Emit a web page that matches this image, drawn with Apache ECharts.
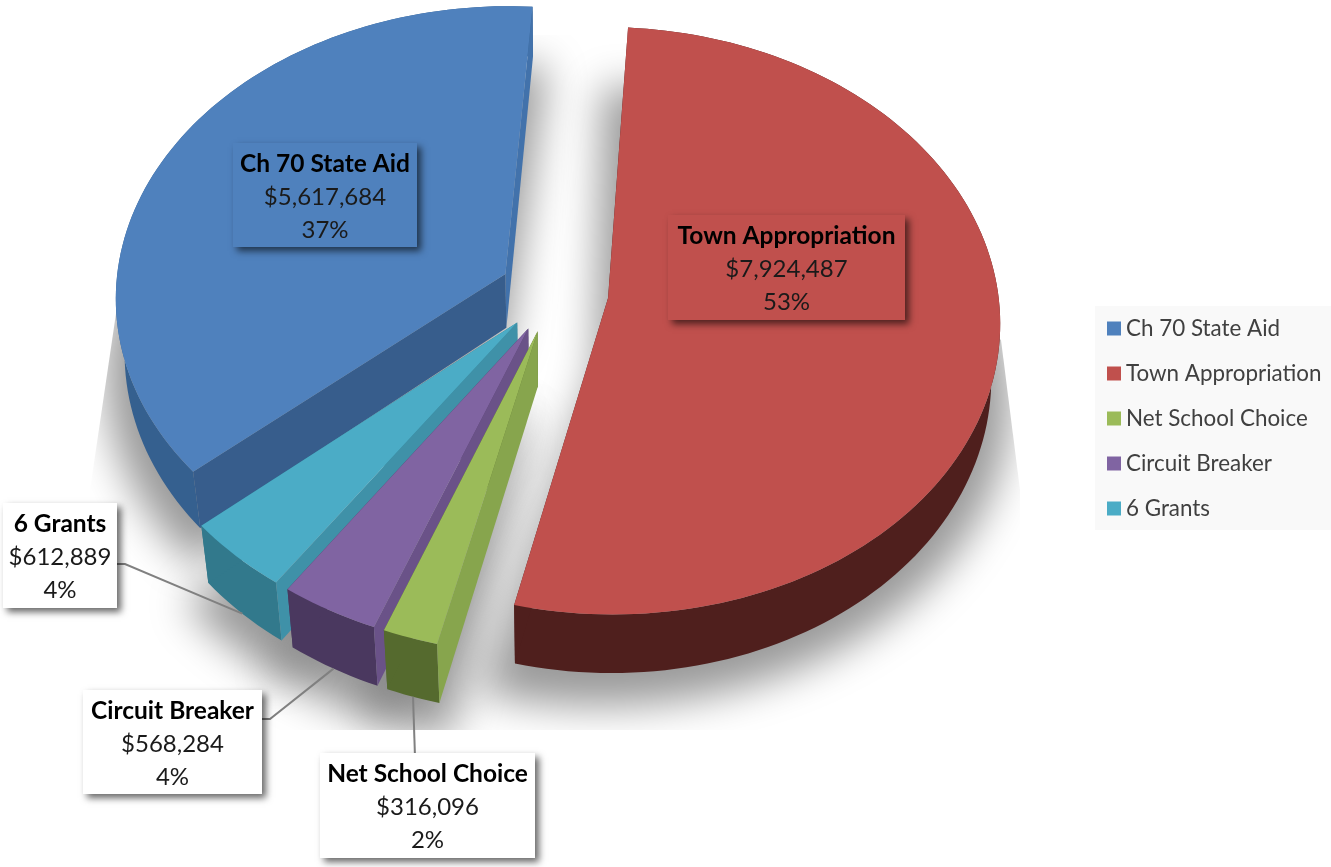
<!DOCTYPE html>
<html>
<head>
<meta charset="utf-8">
<style>html,body{margin:0;padding:0;background:#fff}#chart{width:1331px;height:867px}</style>
<script src="https://cdn.jsdelivr.net/npm/echarts@6/dist/echarts.min.js"></script>
</head>
<body>
<div id="chart"></div>
<script>
// School revenue sources, in clockwise order around the pie
const categories = ['Ch 70 State Aid', 'Town Appropriation', 'Net School Choice', 'Circuit Breaker', '6 Grants'];
const amounts = [5617684, 7924487, 316096, 568284, 612889];
const topColors = ['#4f81bd', '#c0504d', '#9bbb59', '#8064a2', '#4bacc6'];
const outerWallColors = ['#35608f', '#4f1f1d', '#556a2e', '#4a385f', '#32798c'];
const cutWallColors = ['#375d8c', '#4f1f1d', '#87a54d', '#6a5288', '#3f91a8'];
const endWallColors = ['#4272ab', '#4f1f1d', '#556a2e', '#4a385f', '#32798c'];

// Projection of the tilted disc onto the page
const view = {
  cx: 554, cy: 292, sx: 390, sy: 291, persp: 0.077,
  explode: 0.14, depth: 54, shrink: 0.02, firstAngle: 229.3
};

// Data label boxes
const labelBoxes = [
  { x: 233, y: 143, w: 184, h: 104, fill: topColors[0] },
  { x: 668, y: 215, w: 237, h: 105, fill: topColors[1] },
  { x: 320, y: 753, w: 215, h: 105, fill: '#ffffff', leader: [[415, 757]] },
  { x: 83, y: 690, w: 179, h: 104, fill: '#ffffff', leader: [[270, 719], [258, 719]] },
  { x: 3, y: 503, w: 114, h: 105, fill: '#ffffff', leader: [[125, 564], [113, 564]] }
];

// Painting order: far slices first, the red slice last
const paintOrder = [0, 4, 3, 2, 1];

const total = amounts.reduce((a, b) => a + b, 0);
const rad = Math.PI / 180;
const slices = [];
let running = view.firstAngle;
amounts.forEach((value) => {
  const sweep = value / total * 360;
  slices.push({ start: running, end: running + sweep, mid: running + sweep / 2 });
  running += sweep;
});

function project(u, v, z) {
  const f = 1 / (1 - view.persp * v);
  const s = 1 - view.shrink * z;
  return [
    view.cx + view.sx * u * f * s,
    view.cy + (view.sy * v + view.depth * z) * f
  ];
}
function discPoint(slice, angle, r, z) {
  const e = view.explode;
  const u = e * Math.sin(slice.mid * rad) + r * Math.sin(angle * rad);
  const v = -e * Math.cos(slice.mid * rad) - r * Math.cos(angle * rad);
  return project(u, v, z);
}
function rimPoints(slice, z, pad) {
  const pts = [];
  const from = slice.start - (pad || 0), to = slice.end + (pad || 0);
  const steps = Math.max(2, Math.ceil((to - from) / 1.5));
  for (let i = 0; i <= steps; i++) {
    pts.push(discPoint(slice, from + (to - from) * i / steps, 1, z));
  }
  return pts;
}
function quad(a, b, c, d, fill) {
  return { type: 'polygon', silent: true, shape: { points: [a, b, c, d] }, style: { fill } };
}

function renderSlice(i) {
  const slice = slices[i];
  const apexTop = discPoint(slice, slice.start, 0, 0);
  const apexBase = discPoint(slice, slice.start, 0, 1);
  const rimTop = rimPoints(slice, 0);
  const rimBase = rimPoints(slice, 1);
  const first = rimTop[0], last = rimTop[rimTop.length - 1];
  const firstB = rimBase[0], lastB = rimBase[rimBase.length - 1];
  const children = [
    {
      type: 'polygon', silent: true,
      shape: { points: rimTop.concat(rimBase.slice().reverse()) },
      style: { fill: outerWallColors[i] }
    },
    quad(apexTop, last, lastB, apexBase, endWallColors[i]),
    quad(apexTop, first, firstB, apexBase, cutWallColors[i]),
    {
      type: 'polygon', silent: true,
      shape: { points: [apexTop].concat(rimTop) },
      style: { fill: topColors[i] }
    }
  ];
  const box = labelBoxes[i];
  if (box.leader) {
    const anchor = discPoint(slice, slice.mid, 1, 1);
    children.push({
      type: 'polyline', silent: true,
      shape: { points: [anchor].concat(box.leader) },
      style: { stroke: '#808080', lineWidth: 2, fill: null }
    });
  }
  children.push({
    type: 'rect', silent: true,
    shape: { x: box.x, y: box.y, width: box.w, height: box.h },
    style: {
      fill: box.fill, shadowBlur: 7, shadowOffsetX: 4, shadowOffsetY: 4,
      shadowColor: 'rgba(0,0,0,0.6)'
    }
  });
  const pct = Math.round(amounts[i] / total * 100);
  children.push({
    type: 'text', silent: true,
    x: box.x + box.w / 2, y: box.y + box.h / 2 + 2,
    style: {
      text: '{name|' + categories[i] + '}\n{val|$' + amounts[i].toLocaleString('en-US') + '}\n{val|' + pct + '%}',
      align: 'center', verticalAlign: 'middle',
      rich: {
        name: { fontFamily: 'Lato', fontWeight: 'bold', fontSize: 24.5, lineHeight: 33, fill: '#000', align: 'center' },
        val: { fontFamily: 'Lato', fontSize: 24, lineHeight: 33, fill: '#1a1a1a', align: 'center' }
      }
    }
  });
  return { type: 'group', children };
}

// Soft cast shadow under every slice, blurred on both sides of its edge
function renderShadow() {
  const away = 3000;
  const clip = [[525, 35], [625, 35], [1001, 340], [1020, 490], [1020, 730], [90, 730], [90, 490], [118, 300]];
  const children = slices.map((slice) => {
    const apex = discPoint(slice, slice.start, 0, 1);
    // Slices on the right cast their shadow slightly back into the central gap
    const rightSide = slice.mid % 360 < 180;
    const shiftX = rightSide ? -12 : 0;
    const grow = rightSide ? 1.08 : 1.05;
    const pts = [apex].concat(rimPoints(slice, 1, 2)).map((p) => [
      apex[0] + (p[0] - apex[0]) * grow + shiftX - away,
      apex[1] + (p[1] - apex[1]) * 1.04 + 20
    ]);
    return {
      type: 'polygon', silent: true,
      shape: { points: pts },
      style: {
        fill: '#000', shadowBlur: 40, shadowOffsetX: away, shadowOffsetY: 0,
        shadowColor: 'rgba(0,0,0,0.4)'
      }
    };
  });
  return {
    type: 'group', silent: true,
    clipPath: { type: 'polygon', shape: { points: clip } },
    children
  };
}

const series = [{
  type: 'custom', name: 'shadow', coordinateSystem: 'none', z: 1, silent: true,
  data: [0], renderItem: renderShadow
}];
paintOrder.forEach((i, order) => {
  series.push({
    type: 'custom', name: categories[i], coordinateSystem: 'none', z: 2 + order, silent: true,
    itemStyle: { color: topColors[i] },
    data: [amounts[i]],
    renderItem: () => renderSlice(i)
  });
});

const chart = echarts.init(document.getElementById('chart'), null, { renderer: 'canvas' });
chart.setOption({
  animation: false,
  backgroundColor: '#ffffff',
  legend: {
    data: categories,
    orient: 'vertical',
    left: 1095, top: 306,
    padding: [10, 12, 9, 12],
    backgroundColor: '#f9f9f9',
    icon: 'rect',
    itemWidth: 14, itemHeight: 14, itemGap: 20,
    selectedMode: false,
    textStyle: { fontFamily: 'Lato', fontSize: 22.4, color: '#404040', height: 25, lineHeight: 25 }
  },
  series
});
</script>
</body>
</html>
